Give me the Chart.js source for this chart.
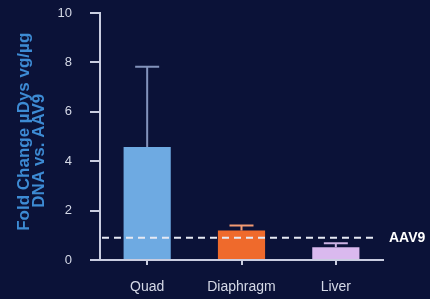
<!DOCTYPE html>
<html>
<head>
<meta charset="utf-8">
<script src="https://cdn.jsdelivr.net/npm/chart.js@4"></script>
<style>
  html, body { margin: 0; padding: 0; background: #0b1238; }
  canvas { display: block; }
</style>
</head>
<body>
<canvas id="foldChart" width="430" height="299"></canvas>
<script>
// --- data ---
const categories = ['Quad', 'Diaphragm', 'Liver'];
const foldChange = [4.57, 1.19, 0.52];
const errorTop = [7.82, 1.40, 0.68];
const aav9Level = 0.9;
const yTickValues = [0, 2, 4, 6, 8, 10];

// --- styles ---
const barColors = ['#6eaae2', '#ef6a2c', '#dab9ee'];
const errorColors = ['#8393bb', '#f39a72', '#cdb3e4'];
const axisColor = '#c9cde0';
const labelColor = '#d4d8e6';
const fontFamily = "'Liberation Sans', Arial, sans-serif";

// error bars on top of each bar (upper arm only)
const errorBars = {
    id: 'errorBars',
    afterDatasetsDraw(chart) {
        const ctx = chart.ctx;
        const y = chart.scales.y;
        const meta = chart.getDatasetMeta(0);
        ctx.save();
        ctx.lineWidth = 2;
        meta.data.forEach((bar, i) => {
            const top = y.getPixelForValue(errorTop[i]);
            ctx.strokeStyle = errorColors[i];
            ctx.beginPath();
            ctx.moveTo(bar.x, bar.y);
            ctx.lineTo(bar.x, top);
            ctx.moveTo(bar.x - 12, top);
            ctx.lineTo(bar.x + 12, top);
            ctx.stroke();
        });
        ctx.restore();
    }
};

// dashed reference line for AAV9
const refLine = {
    id: 'refLine',
    afterDatasetsDraw(chart) {
        const {ctx, chartArea} = chart;
        const yPix = chart.scales.y.getPixelForValue(aav9Level);
        ctx.save();
        ctx.strokeStyle = '#e6e9f3';
        ctx.lineWidth = 2;
        ctx.setLineDash([7, 5]);
        ctx.beginPath();
        ctx.moveTo(chartArea.left + 2, yPix);
        ctx.lineTo(chartArea.right - 5, yPix);
        ctx.stroke();
        ctx.setLineDash([]);
        ctx.fillStyle = '#ffffff';
        ctx.font = 'bold 14px ' + fontFamily;
        ctx.textAlign = 'left';
        ctx.textBaseline = 'middle';
        ctx.fillText('AAV9', chartArea.right + 6, yPix);
        ctx.restore();
    }
};

const ctx = document.getElementById('foldChart').getContext('2d');
const foldChart = new Chart(ctx, {
    type: 'bar',
    data: {
        labels: categories,
        datasets: [{
            data: foldChange,
            backgroundColor: barColors,
            borderWidth: 0,
            barPercentage: 0.5,
            categoryPercentage: 1
        }]
    },
    options: {
        responsive: false,
        animation: false,
        layout: { padding: { top: 13, right: 47, left: 0, bottom: 0 } },
        plugins: {
            legend: { display: false },
            tooltip: { enabled: false }
        },
        scales: {
            x: {
                grid: {
                    display: true,
                    offset: false,
                    drawOnChartArea: false,
                    drawTicks: true,
                    tickLength: 5,
                    color: axisColor,
                    lineWidth: 2
                },
                border: { display: true, color: axisColor, width: 2 },
                ticks: {
                    color: labelColor,
                    padding: 14,
                    font: { family: fontFamily, size: 14 }
                },
                afterFit(scale) { scale.height = 39; }
            },
            y: {
                min: 0,
                max: 10,
                afterBuildTicks(scale) {
                    scale.ticks = yTickValues.map(v => ({ value: v }));
                },
                grid: {
                    display: true,
                    drawOnChartArea: false,
                    drawTicks: true,
                    tickLength: 10,
                    color: axisColor,
                    lineWidth: 2
                },
                border: { display: true, color: axisColor, width: 2 },
                ticks: {
                    color: labelColor,
                    padding: 18,
                    font: { family: fontFamily, size: 13 }
                },
                title: {
                    display: true,
                    text: ['  Fold Change µDys vg/µg', 'DNA vs. AAV9      '],
                    color: '#3d8bd4',
                    font: { family: fontFamily, size: 17, weight: 'bold', lineHeight: 0.88 },
                    padding: { top: 17, bottom: 0 }
                },
                afterFit(scale) {
                    scale.width = 100;
                    // tick padding would otherwise push the chart area down
                    scale.paddingTop = 7;
                    scale.paddingBottom = 0;
                }
            }
        }
    },
    plugins: [errorBars, refLine]
});
</script>
</body>
</html>
